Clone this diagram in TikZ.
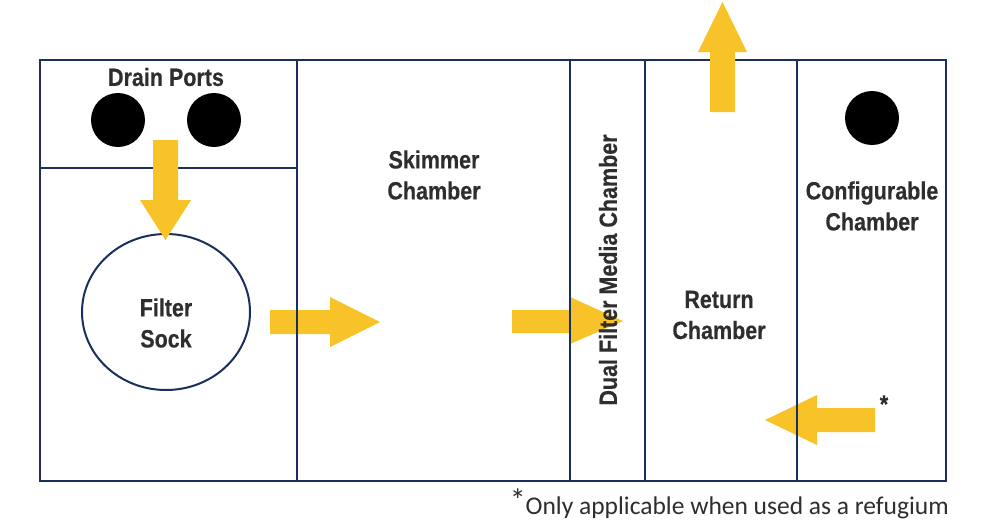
\documentclass[tikz,border=0pt]{standalone}
\usepackage{fontspec}
\usetikzlibrary{shapes.geometric}
\setmainfont{Liberation Sans}
\newfontfamily\lbl[FakeStretch=0.86,FakeBold=0.3]{Liberation Sans Bold}
\newfontfamily\foot{Carlito}
\definecolor{navy}{HTML}{1B2F5E}
\definecolor{gold}{HTML}{F7C328}
\definecolor{txt}{HTML}{2E2E2E}
\begin{document}
\begin{tikzpicture}[x=1pt,y=-1pt,
 wall/.style={draw=navy,line width=2pt},
 flow/.style={fill=gold,draw=none},
 lab/.style={font=\lbl\fontsize{25}{31}\selectfont,text=txt,align=center,inner sep=0pt},
 port/.style={fill=black,circle,minimum size=54pt,inner sep=0pt,draw=none}]
\useasboundingbox (0,0) rectangle (1000,520);
\fill[white] (0,0) rectangle (1000,520);
% outer tank and horizontal divider
\draw[wall] (40,60) rectangle (946,481);
\draw[wall] (40,168) -- (297,168);
% filter sock
\node[ellipse,draw=navy,line width=2pt,minimum width=168pt,minimum height=156pt,inner sep=0pt] (sock) at (166,312) {};
% ports
\node[port] (p1) at (118,120) {};
\node[port] (p2) at (214,120) {};
\node[port] (p3) at (872,118) {};
% flow arrows
\fill[flow] (153,140) -- (178,140) -- (178,200) -- (191,200) -- (165.5,240) -- (140,200) -- (153,200) -- cycle;
\fill[flow] (270,310) -- (330,310) -- (330,297) -- (380,322) -- (330,347) -- (330,334) -- (270,334) -- cycle;
\fill[flow] (512,310) -- (570,310) -- (570,297) -- (623,321) -- (570,344) -- (570,333) -- (512,333) -- cycle;
\fill[flow] (710,112) -- (710,52) -- (698,52) -- (722.5,2) -- (747,52) -- (735,52) -- (735,112) -- cycle;
\fill[flow] (875,408) -- (817,408) -- (817,395) -- (765,420) -- (817,445) -- (817,432) -- (875,432) -- cycle;
% vertical walls
\draw[wall] (297,60) -- (297,481);
\draw[wall] (570,60) -- (570,481);
\draw[wall] (645,60) -- (645,481);
\draw[wall] (797,60) -- (797,481);
% labels
\node[lab] (drain) at (166,77) {Drain Ports};
\node[lab] (sockl) at (166,323) {Filter\\Sock};
\node[lab] (skim) at (434,175) {Skimmer\\Chamber};
\node[lab,rotate=90] (dual) at (608,270) {Dual Filter Media Chamber};
\node[lab] (ret) at (719,315) {Return\\Chamber};
\node[lab] (conf) at (872,206) {Configurable\\Chamber};
\node[lab] (star) at (884,404) {*};
\node[font=\foot\fontsize{25.5}{28}\selectfont,text=txt,inner sep=0pt,anchor=east] (note) at (949,504) {\raisebox{3pt}{\fontsize{32}{32}\selectfont *}Only applicable when used as a refugium};
\end{tikzpicture}
\end{document}
